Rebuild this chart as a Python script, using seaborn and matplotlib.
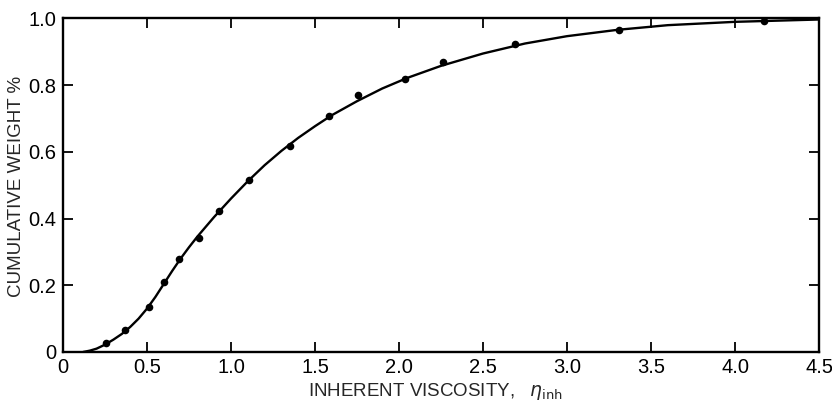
import matplotlib
matplotlib.use('Agg')
import matplotlib.pyplot as plt
import seaborn as sns
import pandas as pd

# measured points (inherent viscosity vs cumulative weight fraction)
visc_pts = [0.254, 0.369, 0.512, 0.601, 0.692, 0.808, 0.929, 1.109, 1.351,
            1.583, 1.754, 2.038, 2.264, 2.69, 3.31, 4.17]
cumw_pts = [0.026, 0.066, 0.134, 0.209, 0.278, 0.341, 0.424, 0.516, 0.617,
            0.707, 0.771, 0.820, 0.870, 0.925, 0.967, 0.991]

# smooth curve
visc_curve = [0.12, 0.16, 0.2, 0.25, 0.3, 0.35, 0.4, 0.45, 0.5, 0.55, 0.6,
              0.65, 0.7, 0.75, 0.8, 0.9, 1.0, 1.1, 1.2, 1.3, 1.4, 1.5, 1.6,
              1.75, 1.9, 2.05, 2.25, 2.5, 2.75, 3.0, 3.3, 3.6, 4.0, 4.5]
cumw_curve = [0.0, 0.004, 0.01, 0.022, 0.037, 0.054, 0.075, 0.1, 0.13, 0.165,
              0.204, 0.243, 0.28, 0.314, 0.346, 0.405, 0.46, 0.512, 0.56,
              0.603, 0.642, 0.677, 0.71, 0.752, 0.79, 0.822, 0.858, 0.895,
              0.925, 0.947, 0.966, 0.98, 0.99, 0.997]

x_ticks = [0, 0.5, 1.0, 1.5, 2.0, 2.5, 3.0, 3.5, 4.0, 4.5]
x_labels = ['0', '0.5', '1.0', '1.5', '2.0', '2.5', '3.0', '3.5', '4.0', '4.5']
y_ticks = [0, 0.2, 0.4, 0.6, 0.8, 1.0]
y_labels = ['0', '0.2', '0.4', '0.6', '0.8', '1.0']

sns.set_style('ticks')
plt.rcParams['font.family'] = ['Liberation Sans', 'DejaVu Sans']

pts = pd.DataFrame({'visc': visc_pts, 'cumw': cumw_pts})
curve = pd.DataFrame({'visc': visc_curve, 'cumw': cumw_curve})

fig = plt.figure(figsize=(8.32, 4.03), dpi=100)
ax = fig.add_axes([0.0757, 0.1266, 0.9087, 0.8275])

sns.lineplot(data=curve, x='visc', y='cumw', color='black', linewidth=1.7,
             sort=True, ax=ax)
sns.scatterplot(data=pts, x='visc', y='cumw', color='black', s=30,
                edgecolor='black', linewidth=0, zorder=3, ax=ax)

ax.set_xlim(0, 4.5)
ax.set_ylim(0, 1.0)
ax.set_xticks(x_ticks)
ax.set_xticklabels(x_labels)
ax.set_yticks(y_ticks)
ax.set_yticklabels(y_labels)
ax.tick_params(direction='in', length=7, width=1.3, labelsize=14.5,
               top=True, right=True, color='black', labelcolor='black')
ax.tick_params(axis='x', pad=4)
ax.tick_params(axis='y', pad=5)
for sp in ax.spines.values():
    sp.set_visible(True)
    sp.set_linewidth(1.7)
    sp.set_color('black')

ax.set_xlabel(r'INHERENT VISCOSITY,   $\eta_{\rm inh}$', fontsize=13.5)
ax.xaxis.set_label_coords(0.493, -0.088)
ax.set_ylabel('CUMULATIVE WEIGHT %', fontsize=13.5)
ax.yaxis.set_label_coords(-0.050, 0.495)

fig.savefig('out.png', dpi=100)
